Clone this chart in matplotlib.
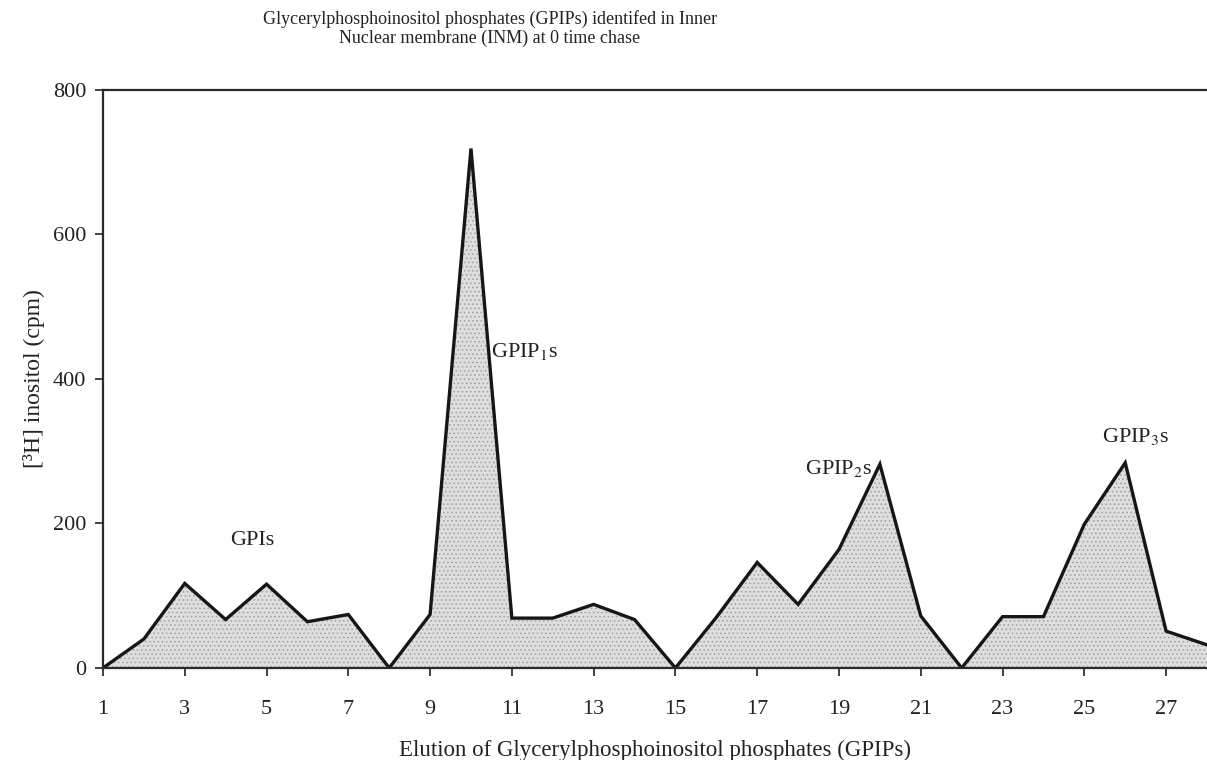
import numpy as np
import matplotlib.pyplot as plt

plt.rcParams['font.family'] = 'Liberation Serif'
plt.rcParams['mathtext.fontset'] = 'stix'
plt.rcParams['hatch.linewidth'] = 0.6

fractions = list(range(1, 29))
counts = [0, 40, 117, 67, 116, 64, 74, 0, 74, 719, 69, 69, 88, 67, 0,
          70, 146, 88, 164, 282, 72, 0, 71, 71, 199, 284, 51, 32]
peak_labels = ['GPIs', 'GPIP$_1$s', 'GPIP$_2$s', 'GPIP$_3$s']
peak_pos = [(4.65, 176), (11.3, 438), (19.0, 276), (26.25, 320)]

fig = plt.figure(figsize=(12.07, 7.6), dpi=100)
ax = fig.add_axes([0.0853, 0.1211, 0.9147, 0.7605])

ax.fill_between(fractions, counts, 0, facecolor='#dedede', edgecolor='#a0a0a0',
                linewidth=0, hatch='....')
ax.plot(fractions, counts, color='#161616', lw=2.4, solid_joinstyle='miter')

for lab, (x, y) in zip(peak_labels, peak_pos):
    ax.text(x, y, lab, fontsize=16, ha='center', va='center', color='#222222')

ax.set_xlim(1, 28)
ax.set_ylim(0, 800)
ax.set_xticks(range(1, 28, 2))
ax.set_yticks(range(0, 801, 200))
ax.tick_params(axis='both', direction='out', length=6, width=1.2,
               labelsize=16, colors='#222222')
ax.tick_params(axis='x', pad=17)
ax.tick_params(axis='y', pad=6)
for side in ['left', 'top', 'bottom']:
    ax.spines[side].set_linewidth(1.6)
    ax.spines[side].set_color('#2a2a2a')
ax.spines['right'].set_visible(False)

ax.set_ylabel('[³H] inositol (cpm)', fontsize=17, color='#222222', labelpad=6)
ax.set_xlabel('Elution of Glycerylphosphoinositol phosphates (GPIPs)',
              fontsize=16.5, color='#222222', labelpad=15)

fig.text(0.406, 0.962, 'Glycerylphosphoinositol phosphates (GPIPs) identifed in Inner\n'
         'Nuclear membrane (INM) at 0 time chase', ha='center', va='center',
         fontsize=13, linespacing=1.15, color='#222222')

fig.savefig('out.png', dpi=100)
